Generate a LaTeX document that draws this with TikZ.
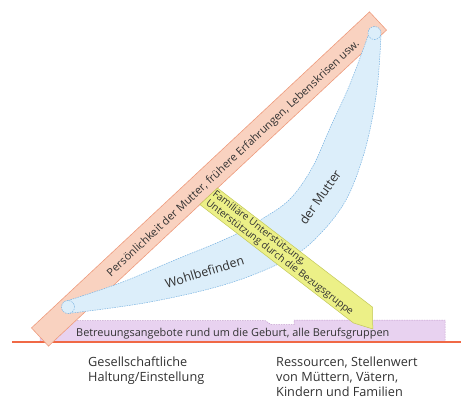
\documentclass[tikz,border=0pt]{standalone}
\usepackage{fontspec}
\setmainfont{Open Sans}
\definecolor{txt}{RGB}{50,50,50}
\definecolor{salfill}{RGB}{249,210,192}
\definecolor{saldraw}{RGB}{238,155,125}
\definecolor{bfill}{RGB}{220,238,250}
\definecolor{bdraw}{RGB}{120,178,225}
\definecolor{yfill}{RGB}{236,240,135}
\definecolor{ydraw}{RGB}{195,200,90}
\definecolor{pfill}{RGB}{232,210,240}
\definecolor{pdraw}{RGB}{195,155,205}
\definecolor{groundred}{RGB}{240,105,70}
\tikzset{
  salmonbar/.style={fill=salfill, draw=saldraw, line width=0.6pt},
  bluefill/.style={fill=bfill},
  blueline/.style={draw=bdraw, line width=0.5pt, dash pattern=on 1.5pt off 1pt},
  yellowbar/.style={fill=yfill, draw=ydraw, line width=0.5pt},
  purplebar/.style={fill=pfill, draw=pdraw, line width=0.5pt, dash pattern=on 1.5pt off 1pt},
  groundline/.style={draw=groundred, line width=1.8pt},
  lbl/.style={inner sep=0pt, text=txt},
}
\begin{document}
\begin{tikzpicture}[x=1pt,y=-1pt]
\useasboundingbox (0,0) rectangle (461,399);
% purple bar
\path[purplebar] (40,341) -- (40,320.5) -- (265,320.5) -- (271,324.5) -- (294,324.5) -- (294,320) -- (445,320) -- (445,341);
% ground line
\coordinate (rl0) at (12,342);
\coordinate (rl1) at (461,342);
\path[groundline] (rl0) -- (rl1);
\node[lbl, anchor=base west, font=\fontsize{10.9}{13}\selectfont] (betr) at (76,336.5) {Betreuungsangebote rund um die Geburt, alle Berufsgruppen};
% salmon bar
\path[salmonbar] (31.5,327.9) -- (48.5,346.1) -- (386.5,30.1) -- (369.5,11.9) -- cycle;
\node[lbl, rotate=43.07, font=\fontsize{11}{13}\selectfont] (pers) at (233.5,159) {Persönlichkeit der Mutter, frühere Erfahrungen, Lebenskrisen usw.};
% blue band
\fill[bluefill] plot[smooth, tension=0.6] coordinates {(68,300.5) (120,283) (170,262) (230,237) (262,219) (290,199) (312,168) (330,128) (350,84) (368,36)}
  -- plot[smooth, tension=0.6] coordinates {(381,36) (378,80) (372,120) (362,160) (346,200) (321,233) (290,258) (230,283) (150,302) (68,313.5)} -- cycle;
\draw[blueline] plot[smooth, tension=0.6] coordinates {(68,300.5) (120,283) (170,262) (230,237) (262,219) (290,199) (312,168) (330,128) (350,84) (368,36)};
\draw[blueline] plot[smooth, tension=0.6] coordinates {(381,36) (378,80) (372,120) (362,160) (346,200) (321,233) (290,258) (230,283) (150,302) (68,313.5)};
\coordinate (cl) at (68,307);
\coordinate (cr) at (374.5,33);
\path[bluefill, blueline] (cl) circle[radius=6.5pt];
\path[bluefill, blueline] (cr) circle[radius=6.5pt];
\node[lbl, rotate=17, font=\fontsize{12.5}{14}\selectfont] (wohl) at (204.5,272) {Wohlbefinden};
\node[lbl, rotate=55, font=\fontsize{12.5}{14}\selectfont] (mutter) at (320,197) {der Mutter};
% yellow bar
\path[yellowbar] (199.8,204.5) -- (353.5,323) -- (372.8,329) -- (372.5,307.1) -- (217.5,188.1) -- cycle;
\node[lbl, rotate=-37.5, anchor=west, align=left, font=\fontsize{10}{11}\selectfont] (fam) at (210.2,197.5) {Familiäre Unterstützung,\\Unterstützung durch die Bezugsgruppe};
% bottom texts
\node[lbl, anchor=base west, font=\fontsize{12.7}{15}\selectfont] (ges1) at (88,366.7) {Gesellschaftliche};
\node[lbl, anchor=base west, font=\fontsize{12.7}{15}\selectfont] (ges2) at (88,381.7) {Haltung/Einstellung};
\node[lbl, anchor=base west, font=\fontsize{12.7}{15}\selectfont] (res1) at (276,366.7) {Ressourcen, Stellenwert};
\node[lbl, anchor=base west, font=\fontsize{12.7}{15}\selectfont] (res2) at (276,381.7) {von Müttern, Vätern,};
\node[lbl, anchor=base west, font=\fontsize{12.7}{15}\selectfont] (res3) at (276,396.7) {Kindern und Familien};
\end{tikzpicture}
\end{document}
